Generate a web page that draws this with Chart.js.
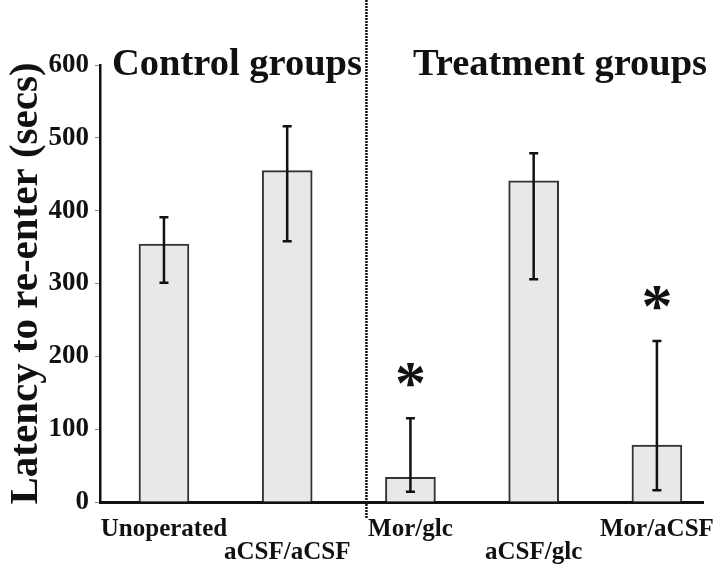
<!DOCTYPE html>
<html>
<head>
<meta charset="utf-8">
<script src="https://cdn.jsdelivr.net/npm/chart.js@4/dist/chart.umd.min.js"></script>
<style>
  html, body { margin: 0; padding: 0; background: #fff; }
  #wrap { width: 720px; height: 564px; position: relative; }
</style>
</head>
<body>
<div id="wrap"><canvas id="chart" width="720" height="564"></canvas></div>
<script>
// data
const categories = ['Unoperated', 'aCSF/aCSF', 'Mor/glc', 'aCSF/glc', 'Mor/aCSF'];
const latency = [354, 455, 34, 441, 78];
const errHigh = [391, 516, 115, 479, 221];
const errLow = [301, 358, 14, 306, 16];
const significant = [false, false, true, false, true];
const yTicks = [0, 100, 200, 300, 400, 500, 600];
const groupTitles = ['Control groups', 'Treatment groups'];

const SERIF = "'Liberation Serif', 'Times New Roman', serif";
const DIVIDER_X = 1.643; // between the two groups, in x-scale units

// labels under aCSF bars sit one line lower
const tickLabels = categories.map((c, i) => (i % 2 === 1 ? ['', c] : c));

const extras = {
    id: 'extras',
    afterDatasetsDraw(chart) {
        const ctx = chart.ctx;
        const xs = chart.scales.x;
        const ys = chart.scales.y;
        const bars = chart.getDatasetMeta(0).data;

        ctx.save();
        // error bars
        ctx.strokeStyle = '#111';
        ctx.lineWidth = 2.5;
        bars.forEach((bar, i) => {
            const top = ys.getPixelForValue(errHigh[i]);
            const bot = ys.getPixelForValue(errLow[i]);
            ctx.beginPath();
            ctx.moveTo(bar.x, top);
            ctx.lineTo(bar.x, bot);
            ctx.moveTo(bar.x - 4.5, top);
            ctx.lineTo(bar.x + 4.5, top);
            ctx.moveTo(bar.x - 4.5, bot);
            ctx.lineTo(bar.x + 4.5, bot);
            ctx.stroke();

            if (significant[i]) {
                ctx.fillStyle = '#111';
                ctx.font = 'bold 62px ' + SERIF;
                ctx.textAlign = 'center';
                ctx.textBaseline = 'middle';
                ctx.fillText('*', bar.x, top - 31);
            }
        });

        // dotted divider
        const dx = xs.getPixelForValue(DIVIDER_X);
        ctx.lineWidth = 2.5;
        ctx.setLineDash([2, 1]);
        ctx.beginPath();
        ctx.moveTo(dx, 0);
        ctx.lineTo(dx, ys.bottom + 16);
        ctx.stroke();
        ctx.setLineDash([]);

        // group headings
        ctx.fillStyle = '#111';
        ctx.font = 'bold 38.5px ' + SERIF;
        ctx.textAlign = 'left';
        ctx.textBaseline = 'alphabetic';
        ctx.fillText(groupTitles[0], 112, 75);
        ctx.fillText(groupTitles[1], 413, 75);
        ctx.restore();
    }
};

new Chart(document.getElementById('chart'), {
    type: 'bar',
    data: {
        datasets: [{
            data: latency.map((v, i) => ({ x: i, y: v })),
            backgroundColor: '#e8e8e8',
            borderColor: '#333',
            borderWidth: 2,
            barThickness: 50
        }]
    },
    options: {
        responsive: false,
        animation: false,
        layout: { padding: { top: 65, right: 17, left: 0, bottom: 0 } },
        plugins: { legend: { display: false }, tooltip: { enabled: false } },
        scales: {
            x: {
                type: 'linear',
                offset: false,
                min: -0.519,
                max: 4.374,
                afterFit: (s) => { s.height = 62; s.paddingLeft = 0; s.paddingRight = 0; },
                afterBuildTicks: (s) => { s.ticks = categories.map((c, i) => ({ value: i })); },
                grid: { display: false, drawTicks: false, offset: false },
                border: { display: true, color: '#111', width: 3 },
                ticks: {
                    autoSkip: false,
                    maxRotation: 0,
                    padding: 16,
                    color: '#111',
                    font: { family: SERIF, size: 25, weight: 'bold', lineHeight: 0.92 },
                    callback: (v) => (tickLabels[Math.round(v)] !== undefined ? tickLabels[Math.round(v)] : '')
                }
            },
            y: {
                min: 0,
                max: 600,
                afterFit: (s) => { s.width = 100; },
                afterBuildTicks: (s) => { s.ticks = yTicks.map(v => ({ value: v })); },
                grid: { drawOnChartArea: false, tickLength: 5, color: '#888', lineWidth: 1 },
                border: { display: true, color: '#111', width: 2.5 },
                ticks: {
                    padding: 6,
                    color: '#111',
                    font: { family: SERIF, size: 27, weight: 'bold' }
                },
                title: {
                    display: true,
                    text: 'Latency to re-enter (secs)',
                    color: '#111',
                    padding: { top: 3, bottom: 0 },
                    font: { family: SERIF, size: 41, weight: 'bold', lineHeight: 1.15 }
                }
            }
        }
    },
    plugins: [extras]
});
</script>
</body>
</html>
